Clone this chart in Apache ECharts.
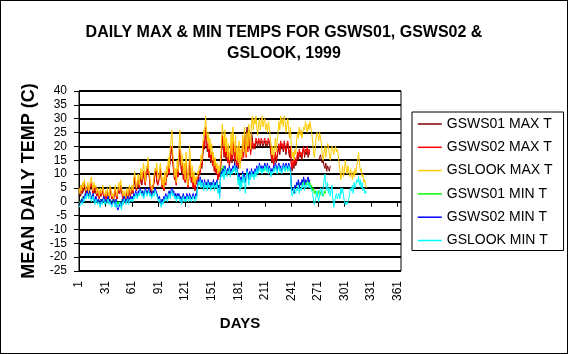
<!DOCTYPE html>
<html>
<head>
<meta charset="utf-8">
<script src="https://cdn.jsdelivr.net/npm/echarts@6/dist/echarts.min.js"></script>
<style>
  body { margin: 0; background: #fff; }
  #chart { width: 568px; height: 354px; }
  #frame { position: absolute; left: 0; top: 0; width: 568px; height: 354px; box-sizing: border-box; border: 1px solid #000; pointer-events: none; }
</style>
</head>
<body>
<div id="chart"></div>
<div id="frame"></div>
<script>
// day numbers on the x axis, 1..365
let days = [];
for (let d = 1; d <= 365; d++) days.push(String(d));

let seriesNames = ['GSWS01 MAX T', 'GSWS02 MAX T', 'GSLOOK MAX T', 'GSWS01 MIN T', 'GSWS02 MIN T', 'GSLOOK MIN T'];

let gsws01Max = [
  2,3,2,5,3,4,6,4,3,3, 5,2,4,5,6,4,3,5,3,4, 2,3,2,1,3,2,3,4,2,1,
  2,1,3,2,0,4,3,1,2,0, 3,4,2,1,3,4,3,5,4,2, 1,2,0,2,3,1,2,4,2,3,
  4,3,6,8,5,4,6,7,5,7, 9,6,8,10,8,6,10,12,14,10, 7,4,3,5,5,7,10,11,7,6,
  6,9,11,8,5,7,4,8,6,10, 9,12,11,15,18,19,14,11,8,9, 6,11,9,15,18,14,10,13,8,11,
  7,13,9,5,8,14,11,7,9,5, 8,4,6,6,8,8,10,10,13,12, 17,21,19,26,23,18,20,16,19,14,
  17,13,15,11,13,10,12,8,10,9, 11,17,23,20,16,21,15,19,14,17, 13,15,20,14,21,18,14,19,13,16,
  12,19,14,16,15,21,16,23,19,24, 27,22,26,20,18,25,23,19,21,19, 22,21,20,22,21,20,22,21,20,21,
  22,20,21,20,22,21,20,17,14,16, 13,15,17,14,16,18,20,17,21,19, 20,18,21,19,17,20,21,18,16,19,
  13,11,14,12,15,13,14,17,15,18, 16,17,15,18,19,16,18,17,19,16, 18,17,null,null,null,null,null,null,null,null,
  null,15,16,17,15,14,15,13,12,14, 11,13,12,11,13
];

let gsws02Max = [
  4,5,3,6,4,5,7,5,3,4, 6,2,5,6,7,5,3,6,4,5, 2,4,3,1,4,2,3,5,2,1,
  3,1,4,2,0,5,4,1,2,0, 3,5,2,1,4,5,3,6,5,2, 1,3,0,2,4,1,3,5,2,4,
  5,3,7,9,6,4,7,8,5,8, 10,7,9,11,8,6,11,10,13,10, 8,4,3,6,5,8,11,12,8,6,
  7,10,12,9,5,8,4,9,6,11, 9,13,10,16,19,20,15,12,8,10, 6,12,9,16,19,15,11,14,8,12,
  7,14,10,5,8,15,12,7,10,5, 9,4,7,7,9,8,11,10,14,13, 18,22,20,27,24,19,21,16,20,15,
  18,13,16,11,14,10,12,8,11,9, 12,18,24,21,17,22,16,20,14,18, 13,16,21,15,22,19,15,20,13,17,
  13,20,14,17,15,22,16,24,19,16, 22,18,25,21,17,20,22,19,21,20, 23,22,21,23,22,21,23,22,21,22,
  23,21,22,21,23,22,21,18,15,17, 13,16,18,15,17,19,21,18,22,20, 21,19,22,20,18,21,22,19,17,20,
  14,12,15,13,16,14,15,18,16,19, 17,18,16,19,20,17,19,18,20,17, 19,18
];

let gslookMax = [
  5,3,6,4,7,5,8,6,4,5, 7,3,6,8,9,6,4,7,5,6, 3,5,4,2,5,3,4,6,3,2,
  4,2,5,3,1,6,5,2,3,1, 4,6,3,2,5,7,4,8,6,3, 2,4,1,3,5,2,4,6,3,5,
  6,4,9,11,7,5,8,10,6,9, 12,8,11,14,10,7,13,12,16,11, 9,6,5,4,7,10,12,11,14,9,
  8,12,14,10,6,9,5,11,7,13, 10,16,12,19,22,26,18,14,9,12, 7,15,11,20,26,19,13,17,10,14,
  8,18,12,6,10,20,15,9,13,7, 11,6,9,8,11,10,13,12,17,15, 21,26,24,31,27,22,25,19,23,17,
  21,15,18,13,16,12,14,10,13,11, 15,22,28,24,20,26,18,23,16,21, 15,19,25,17,27,22,18,24,15,20,
  14,22,12,19,16,24,18,27,21,17, 25,20,28,23,19,29,31,26,30,28, 31,27,24,28,30,26,29,31,27,29,
  30,26,28,25,29,27,24,21,17,20, 16,19,23,18,22,25,29,26,31,28, 30,27,31,29,25,28,30,26,23,27,
  20,16,18,15,19,17,22,25,23,27, 24,26,23,25,27,26,29,27,25,28, 26,29,27,25,22,18,16,19,23,25,
  24,22,25,23,21,17,15,18,20,16, 19,21,20,17,15,18,20,19,17,19, 20,18,19,17,14,11,8,10,13,9,
  11,15,12,10,13,11,9,12,10,8, 11,9,12,10,13,15,18,14,11,12, 9,10,7,8,6,5
];

let gsws01Min = [
  -1,0,0,1,1,2,1,2,2,3, 3,2,3,3,1,2,2,1,0,1, 1,0,1,0,0,1,0,1,1,0,
  1,0,1,1,0,1,0,0,0,1, 0,0,1,0,-1,0,0,0,-1,1, 0,1,1,0,1,1,0,1,1,1,
  2,1,2,2,3,3,2,3,3,4, 4,3,4,2,3,4,4,3,4,4, 3,3,2,3,4,3,4,4,3,2,
  1,1,0,0,1,0,1,1,2,2, 1,2,3,2,3,4,3,3,2,3, 1,2,2,2,1,2,0,1,2,1,
  1,1,2,2,1,2,2,1,2,2, 2,1,2,2,5,7,7,8,6,7, 7,5,7,6,7,5,7,6,7,5,
  6,6,7,5,7,6,7,4,6,3, 10,12,11,13,12,12,11,11,12,11, 12,10,11,11,12,11,13,11,12,11,
  7,9,6,8,7,10,8,9,7,9, 11,10,8,10,9,11,10,10,9,11, 10,12,11,11,13,11,12,11,12,11,
  13,12,11,13,11,12,11,10,11,11, 12,11,13,12,11,12,13,11,12,11, 11,13,12,11,13,12,11,13,12,11,
  5,4,5,3,5,5,6,6,7,5, 6,6,7,6,8,6,7,6,7,8, 6,7,5,6,4,5,3,4,3,2,
  3,4,2,3,4,3,2,3,4,3
];

let gsws02Min = [
  -1,-1,0,1,0,2,1,3,2,4, 3,2,4,3,1,2,3,1,0,2, 1,0,1,0,-1,1,0,1,2,0,
  1,0,1,2,0,1,0,-1,0,1, 0,-1,1,-2,-3,-2,-1,0,-2,1, 0,2,1,0,1,2,0,1,2,1,
  2,1,3,2,4,3,2,4,3,5, 4,3,4,2,3,5,4,3,4,5, 3,4,2,3,4,3,5,4,3,2,
  1,2,0,-1,1,0,2,1,3,2, 1,3,4,2,4,5,3,4,2,3, 1,3,2,3,1,2,0,2,3,1,
  2,1,3,2,1,3,2,1,2,3, 2,1,3,2,6,8,7,9,6,8, 7,5,8,6,7,5,8,6,7,5,
  7,6,8,5,7,6,8,4,6,2, 9,11,10,12,9,13,11,10,12,11, 13,10,12,11,13,12,14,11,13,12,
  8,10,6,9,7,11,8,10,7,9, 12,10,8,11,9,12,10,11,9,12, 10,13,11,12,14,12,13,11,13,12,
  14,13,12,14,11,13,12,10,12,11, 13,12,14,13,11,13,14,12,13,11, 12,14,13,12,14,13,12,14,13,12,
  6,4,5,3,6,5,7,6,8,5, 7,6,8,7,9,6,8,7,8,9, 7,8
];

let gslookMin = [
  -2,-2,-1,0,-1,1,0,2,1,3, 2,1,3,2,0,1,2,0,-1,1, 0,-1,0,-1,-2,0,-1,0,1,-1,
  0,-1,0,1,-1,0,-1,-2,-1,0, -1,-2,0,-1,-2,-1,0,-1,-3,0, -1,1,0,-1,0,1,-1,0,1,0,
  1,0,2,1,3,2,1,3,2,4, 3,2,3,1,2,4,3,2,3,4, 2,3,1,2,3,2,4,3,2,1,
  0,1,-1,-2,0,-1,1,0,2,1, 0,2,3,1,3,4,2,3,1,2, 0,2,1,2,0,1,-1,1,2,0,
  1,0,2,1,0,2,1,0,1,2, 1,0,2,1,5,7,6,8,5,7, 6,4,7,5,6,4,7,5,6,4,
  6,5,7,4,6,5,7,3,5,1, 8,10,9,11,8,12,10,9,11,10, 12,9,11,10,12,11,13,10,12,11,
  6,9,4,8,5,10,7,9,3,8, 11,9,6,10,8,11,9,10,8,11, 9,12,10,11,13,11,12,10,12,11,
  13,12,11,13,10,12,11,9,11,10, 12,11,13,12,10,12,13,11,12,10, 11,13,12,11,13,12,11,13,12,11,
  4,2,3,5,4,3,5,4,6,3, 5,4,6,5,7,4,6,5,6,7, 5,6,5,4,3,1,-1,0,2,4,
  2,0,3,5,4,2,5,8,10,6, 4,7,3,5,2,4,6,1,-2,0, 2,3,1,2,3,1,5,3,5,2,
  0,-1,0,-1,0,1,3,5,4,6, 3,7,5,6,8,7,9,6,8,5, 7,4,5,3,4,3
];

let seriesData = [gsws01Max, gsws02Max, gslookMax, gsws01Min, gsws02Min, gslookMin];
let seriesColors = ['#800000', '#ff0000', '#ffcc00', '#00ff00', '#0000ff', '#00ffff'];

let font = 'Liberation Sans, Arial, sans-serif';

let option = {
  animation: false,
  backgroundColor: '#fff',
  textStyle: {fontFamily: font, color: '#000'},
  title: {
    text: 'DAILY MAX & MIN TEMPS FOR GSWS01, GSWS02 &\nGSLOOK, 1999',
    left: 'center',
    top: 17,
    textStyle: {fontFamily: font, fontSize: 16, fontWeight: 'bold', color: '#000', lineHeight: 21}
  },
  legend: {
    orient: 'vertical',
    left: 412,
    top: 112,
    itemWidth: 24,
    itemHeight: 14,
    itemGap: 9.3,
    padding: [5, 11, 3, 5],
    borderColor: '#000',
    borderWidth: 1,
    // hide the marker, keep only the line
    itemStyle: {opacity: 0},
    lineStyle: {width: 1.5},
    textStyle: {fontFamily: font, fontSize: 14, color: '#000'},
    data: seriesNames
  },
  grid: {
    left: 79,
    right: 167,
    top: 91,
    bottom: 83,
    show: true,
    borderColor: '#000',
    borderWidth: 1
  },
  xAxis: {
    type: 'category',
    data: days,
    boundaryGap: false,
    name: 'DAYS',
    nameLocation: 'middle',
    nameGap: 45,
    nameTextStyle: {fontFamily: font, fontSize: 15, fontWeight: 'bold', color: '#000'},
    axisLine: {lineStyle: {color: '#000', width: 1}},
    axisTick: {interval: 29, length: 5, lineStyle: {color: '#000'}},
    axisLabel: {interval: 29, rotate: 90, margin: 10, fontFamily: font, fontSize: 12, color: '#000'},
    splitLine: {show: false}
  },
  yAxis: {
    type: 'value',
    min: -25,
    max: 40,
    interval: 5,
    name: 'MEAN DAILY TEMP (C)',
    nameLocation: 'middle',
    nameRotate: 90,
    nameGap: 41,
    nameTextStyle: {fontFamily: font, fontSize: 18, fontWeight: 'bold', color: '#000'},
    axisLine: {show: true, lineStyle: {color: '#000', width: 1}},
    axisTick: {show: true, length: 5, lineStyle: {color: '#000'}},
    axisLabel: {margin: 12, fontFamily: font, fontSize: 12, color: '#000'},
    splitLine: {lineStyle: {color: '#000', width: 2}}
  },
  series: seriesNames.map(function (name, i) {
    return {
      name: name,
      type: 'line',
      data: seriesData[i],
      symbol: 'none',
      connectNulls: false,
      color: seriesColors[i],
      lineStyle: {color: seriesColors[i], width: 1}
    };
  })
};

let myChart = echarts.init(document.getElementById('chart'));
myChart.setOption(option);
</script>
</body>
</html>
